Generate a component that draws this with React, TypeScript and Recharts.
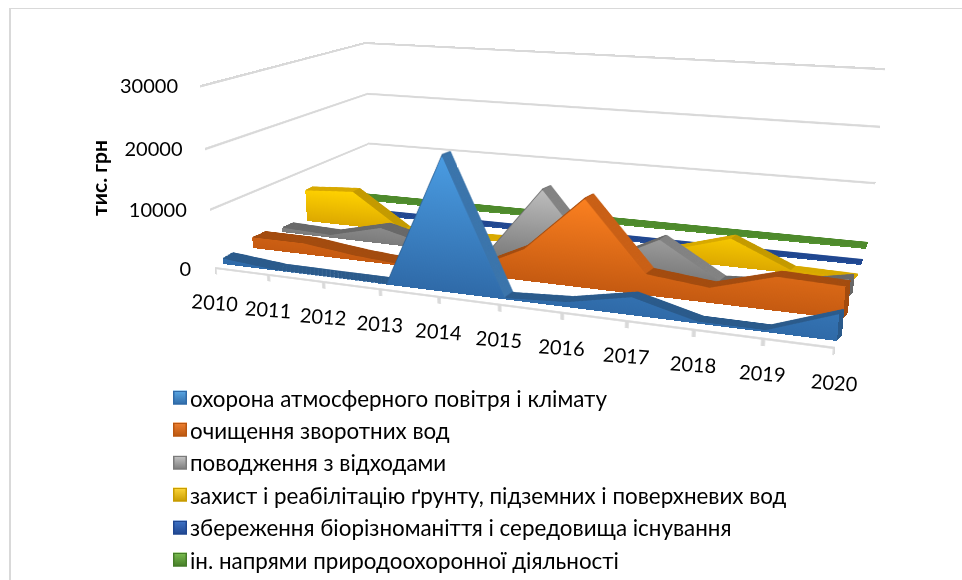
import { Area, AreaChart, CartesianGrid, Line, LineChart, XAxis, YAxis } from 'recharts'

const years = ['2010', '2011', '2012', '2013', '2014', '2015', '2016', '2017', '2018', '2019', '2020']
const yTicks = [0, 10000, 20000, 30000]

const air = [950, 100, 50, 100, 21500, 200, 800, 2800, 300, 300, 4000]
const water = [1900, 1900, 800, 100, 500, 5200, 14300, 3400, 2400, 5300, 5000]
const waste = [800, 500, 2800, 500, 300, 12300, 1000, 6000, 300, 1000, 3000]
const soil = [5800, 6400, 200, 100, 400, 300, 300, 1800, 4700, 500, 300]
const biodiversity = [150, 150, 150, 150, 150, 150, 150, 150, 150, 150, 150]
const other = [200, 200, 200, 200, 200, 200, 200, 200, 200, 200, 200]

const names = [
  'охорона атмосферного повітря і клімату',
  'очищення зворотних вод',
  'поводження з відходами',
  'захист і реабілітацію ґрунту, підземних і поверхневих вод',
  'збереження біорізноманіття і середовища існування',
  'ін. напрями природоохоронної діяльності',
]

type Pt = [number, number]

const W = 620
const H = 300

// plane chart box -> page quad (bottom-left, bottom-right, top-right, top-left)
function homography(bl: Pt, br: Pt, tr: Pt, tl: Pt) {
  const [x0, y0] = tl
  const [x1, y1] = tr
  const [x2, y2] = br
  const [x3, y3] = bl
  const dx1 = x1 - x2
  const dx2 = x3 - x2
  const sx = x0 - x1 + x2 - x3
  const dy1 = y1 - y2
  const dy2 = y3 - y2
  const sy = y0 - y1 + y2 - y3
  const den = dx1 * dy2 - dx2 * dy1
  const g = (sx * dy2 - dx2 * sy) / den
  const h = (dx1 * sy - sx * dy1) / den
  const a = x1 - x0 + g * x1
  const b = x3 - x0 + h * x3
  const d = y1 - y0 + g * y1
  const e = y3 - y0 + h * y3
  return { a: a / W, b: b / H, c: x0, d: d / W, e: e / H, f: y0, g: g / W, h: h / H }
}

type Hom = ReturnType<typeof homography>
const toCss = (m: Hom) =>
  `matrix3d(${m.a},${m.d},0,${m.g},${m.b},${m.e},0,${m.h},0,0,1,0,${m.c},${m.f},0,1)`
const project = (m: Hom, x: number, y: number): Pt => {
  const w = m.g * x + m.h * y + 1
  return [(m.a * x + m.b * y + m.c) / w, (m.d * x + m.e * y + m.f) / w]
}

// wall height and lean at a depth d (0 front, 1 back)
function plane(bl: Pt, br: Pt, d: number) {
  const hL = 183 - 33 * d
  const hR = 213 - 38 * d
  const lL = -15 + 10 * d
  const lR = 17 - 2 * d
  return homography(bl, br, [br[0] + lR, br[1] - hR], [bl[0] + lL, bl[1] - hL])
}

const front = plane([215, 268], [835, 348], 0)

const seriesStyle = [
  { id: 'air', values: air, bl: [223, 264], br: [837, 341], d: 0.05, off: [[10, -6], [5, -5]], top: '#4a9ce2', bottom: '#2f6aa8', flat: '#2a5a8b', slope: '#3a74ab' },
  { id: 'water', values: water, bl: [253, 248], br: [843, 319], d: 0.24, off: [[13, -6], [5, -6]], top: '#fb8020', bottom: '#c55a11', flat: '#a34b0e', slope: '#c95f15' },
  { id: 'waste', values: waste, bl: [282, 232], br: [848, 298], d: 0.43, off: [[11, -5], [5, -5]], top: '#bdbdbd', bottom: '#7b7b7b', flat: '#686868', slope: '#828282' },
  { id: 'soil', values: soil, bl: [307, 221], br: [854, 280], d: 0.59, off: [[7, -4], [4, -4]], top: '#ffd200', bottom: '#dca800', flat: '#d8a900', slope: '#c49a00' },
  { id: 'bio', values: biodiversity, bl: [330, 211], br: [861, 265], d: 0.74, off: [[3, -5], [2, -5]], top: '#2a5aa8', bottom: '#1f4690', flat: '#1f4690', slope: '#1f4690' },
  { id: 'other', values: other, bl: [350, 199], br: [866, 249], d: 0.87, off: [[3, -6], [2, -6]], top: '#5a9c34', bottom: '#4e8a2c', flat: '#4e8a2c', slope: '#4e8a2c' },
]

const LAYERS = 14

function Plane({ m, values, fill, id, stops }: { m: Hom; values: number[]; fill: string; id: string; stops: [number, string][] }) {
  const rows = years.map((year, i) => ({ year, value: values[i] }))
  const isLayer = stops.length > 0
  return (
    <div style={{ position: 'absolute', left: 0, top: 0, transformOrigin: '0 0', transform: toCss(m) }}>
      <AreaChart width={W} height={H} data={rows} margin={{ top: 0, right: 0, bottom: 0, left: 0 }}>
        <defs>
          {isLayer && (
            <linearGradient id={id} x1="0" y1="0" x2="1" y2="0">
              {stops.map(([o, c], i) => (
                <stop key={i} offset={o} stopColor={c} />
              ))}
            </linearGradient>
          )}
          {!isLayer && (
            <linearGradient id={id} x1="0" y1="0" x2="0" y2="1">
              <stop offset="0%" stopColor={fill.split(':')[0]} />
              <stop offset="100%" stopColor={fill.split(':')[1]} />
            </linearGradient>
          )}
        </defs>
        <XAxis dataKey="year" hide />
        <YAxis hide domain={[0, 30000]} />
        <Area
          type="linear"
          dataKey="value"
          stroke={isLayer ? `url(#${id})` : 'none'}
          strokeWidth={isLayer ? 2 : 0}
          fill={`url(#${id})`}
          fillOpacity={1}
          isAnimationActive={false}
          dot={false}
          activeDot={false}
        />
      </AreaChart>
    </div>
  )
}

function Series({ s }: { s: (typeof seriesStyle)[number] }) {
  // top surface: falling stretches catch more light than flat ones
  const stops: [number, string][] = []
  s.values.slice(1).forEach((v, i) => {
    const c = s.values[i] - v > 3000 ? s.slope : s.flat
    stops.push([i / 10, c], [(i + 1) / 10, c])
  })
  const layers = []
  for (let k = LAYERS; k >= 1; k--) {
    const t = k / LAYERS
    const bl: Pt = [s.bl[0] + s.off[0][0] * t, s.bl[1] + s.off[0][1] * t]
    const br: Pt = [s.br[0] + s.off[1][0] * t, s.br[1] + s.off[1][1] * t]
    layers.push(<Plane key={k} m={plane(bl, br, s.d + 0.1 * t)} values={s.values} fill="" id={`${s.id}-l${k}`} stops={stops} />)
  }
  return (
    <>
      {layers}
      <Plane m={plane(s.bl as Pt, s.br as Pt, s.d)} values={s.values} fill={`${s.top}:${s.bottom}`} id={`${s.id}-f`} stops={[]} />
    </>
  )
}

const gridRows = [
  { q: 0, v: 0 },
  { q: 1, v: 0 },
]

function Wall({ m }: { m: Hom }) {
  return (
    <div style={{ position: 'absolute', left: 0, top: 0, transformOrigin: '0 0', transform: toCss(m) }}>
      <AreaChart width={W} height={H} data={gridRows} margin={{ top: 2, right: 0, bottom: 0, left: 0 }}>
        <CartesianGrid vertical={false} stroke="#d9d9d9" strokeWidth={4} horizontalValues={yTicks} />
        <XAxis dataKey="q" hide />
        <YAxis hide domain={[0, 30000]} ticks={yTicks} />
        <Area dataKey="v" stroke="none" fill="none" isAnimationActive={false} />
      </AreaChart>
    </div>
  )
}

function FloorEdge() {
  const rows = years.map((year) => ({ year, value: 0 }))
  return (
    <div style={{ position: 'absolute', left: 0, top: 0, transformOrigin: '0 0', transform: toCss(front) }}>
      <AreaChart width={W} height={H + 14} data={rows} margin={{ top: 0, right: 0, bottom: 0, left: 0 }}>
        <XAxis dataKey="year" height={14} tick={() => <g />} tickSize={11} stroke="#d9d9d9" strokeWidth={3.5} interval={0} />
        <YAxis hide domain={[0, 30000]} />
      </AreaChart>
    </div>
  )
}

const FONT = 'Lato, "Open Sans", sans-serif'
const xTickPos = years.map((_, i) => project(front, (i / 10) * W, H))
const yTickPos = yTicks.map((v) => project(front, 0, H - (v / 30000) * H))

function YearTick({ x, index }: any) {
  const p = xTickPos[index]
  return (
    <text x={x - 1} y={p[1] + 34} textAnchor="middle" dominantBaseline="central" fontSize={20} fontFamily={FONT} fill="#000" transform={`rotate(4 ${x - 1} ${p[1] + 34})`}>
      {years[index]}
    </text>
  )
}

function ValueTick({ y, index }: any) {
  const p = yTickPos[index]
  return (
    <text x={p[0] - 24 + 2 * (yTicks[index] / 30000)} y={y} textAnchor="end" dominantBaseline="central" fontSize={20} fontFamily={FONT} fill="#000">
      {yTicks[index]}
    </text>
  )
}

const dummy = [{ px: 0, py: 0 }]

function Labels() {
  return (
    <div style={{ position: 'absolute', left: 0, top: 0 }}>
      <LineChart width={962} height={580} data={dummy} margin={{ top: 0, right: 0, bottom: 0, left: 0 }}>
        <XAxis xAxisId="years" type="number" dataKey="px" domain={[0, 962]} ticks={xTickPos.map((p) => p[0])} tick={<YearTick />} axisLine={false} tickLine={false} interval={0} height={1} orientation="bottom" />
        <YAxis yAxisId="values" type="number" dataKey="py" domain={[0, 580]} reversed ticks={yTickPos.map((p) => p[1])} tick={<ValueTick />} axisLine={false} tickLine={false} interval={0} width={1} />
        <Line xAxisId="years" yAxisId="values" dataKey="py" stroke="none" dot={false} isAnimationActive={false} />
      </LineChart>
    </div>
  )
}

const swatches = [
  ['#5aa9e6', '#2f6aa8'],
  ['#f08030', '#b9560f'],
  ['#c8c8c8', '#7b7b7b'],
  ['#ffd83a', '#c89c00'],
  ['#3f74c8', '#1f4690'],
  ['#7cc050', '#457c28'],
]

export default function App() {
  const backWall = homography([370, 192], [871, 238], [885, 68], [365, 42])
  const sideWall = homography([215, 268], [370, 192], [365, 42], [200, 85])
  return (
    <div style={{ position: 'absolute', left: 0, top: 0, width: 962, height: 580, overflow: 'hidden', background: '#fff', fontFamily: FONT }}>
      <div style={{ position: 'absolute', left: 9, top: 8, width: 960, height: 600, borderTop: '1.5px solid #d9d9d9', borderLeft: '2.5px solid #d9d9d9' }} />
      <Wall m={backWall} />
      <Wall m={sideWall} />
      <FloorEdge />
      {[...seriesStyle].reverse().map((s) => (
        <Series key={s.id} s={s} />
      ))}
      <Labels />
      <div style={{ position: 'absolute', left: 98, top: 178, fontSize: 21, fontWeight: 700, transform: 'translate(-50%,-50%) rotate(-90deg)', whiteSpace: 'nowrap' }}>
        тис. грн
      </div>
      {names.map((n, i) => (
        <div key={n} style={{ position: 'absolute', left: 173, top: 397.5 + i * 32.4, transform: 'translateY(-50%)', display: 'flex', alignItems: 'center', whiteSpace: 'nowrap', fontSize: 22.4, color: '#000' }}>
          <span style={{ width: 14, height: 14, marginRight: 3, background: `linear-gradient(${swatches[i][0]}, ${swatches[i][1]})`, boxShadow: `inset 0 0 0 1.5px ${swatches[i][1]}` }} />
          {n}
        </div>
      ))}
    </div>
  )
}
